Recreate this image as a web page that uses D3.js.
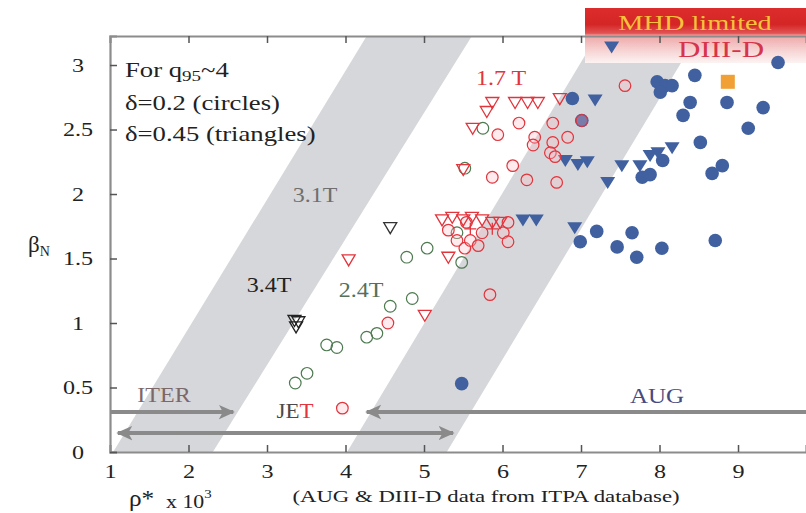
<!DOCTYPE html>
<html>
<head>
<meta charset="utf-8">
<script src="https://cdn.jsdelivr.net/npm/d3@7"></script>
<style>
  html, body { margin: 0; padding: 0; background: #fff; }
  svg { display: block; font-family: "Liberation Serif", "DejaVu Serif", serif; }
</style>
</head>
<body>
<svg id="chart" width="806" height="513"></svg>
<script>
// ---- data: [rho* x 10^3, beta_N] ----
const rhoTicks = [1, 2, 3, 4, 5, 6, 7, 8, 9];
const betaTicks = [0, 0.5, 1, 1.5, 2, 2.5, 3];

// JET 3.4 T, delta = 0.45
const jet34Tri = [[3.35, 1.02], [3.40, 1.01], [3.37, 0.97]];
// JET 2.4 T
const jet24Circ = [[3.36, 0.535], [3.51, 0.61], [3.76, 0.83], [3.89, 0.81], [4.27, 0.89], [4.40, 0.92],
  [4.57, 1.13], [4.85, 1.19], [4.78, 1.51], [5.04, 1.58], [5.48, 1.47], [5.42, 1.70], [5.52, 2.20], [5.75, 2.51]];
const jet24Tri = [[4.57, 1.74]];
// JET 1.7 T
const jet17Circ = [[3.96, 0.34], [4.54, 1.00], [5.84, 1.22], [5.31, 1.72], [5.42, 1.64], [5.52, 1.58],
  [5.59, 1.64], [5.69, 1.60], [5.74, 1.70], [6.01, 1.70], [6.07, 1.63], [6.07, 1.78], [5.54, 1.78],
  [5.87, 2.13], [6.13, 2.22], [6.31, 2.11], [6.69, 2.09], [5.94, 2.46], [6.21, 2.55], [6.64, 2.55],
  [6.83, 2.44], [6.41, 2.44], [6.39, 2.38], [6.64, 2.40], [6.61, 2.32], [6.67, 2.29], [7.01, 2.57], [7.56, 2.84]];
const jet17Tri = [[4.04, 1.49], [5.01, 1.06], [5.31, 1.51], [5.23, 1.80], [5.36, 1.82], [5.50, 1.80],
  [5.61, 1.82], [5.74, 1.80], [5.87, 1.78], [5.97, 1.78], [5.50, 2.19], [5.62, 2.51], [5.80, 2.64],
  [5.87, 2.71], [6.16, 2.71], [6.32, 2.71], [6.45, 2.71], [6.73, 2.74]];
const jet17Plus = [[5.59, 1.73], [5.87, 1.73]];
// AUG (ITPA database)
const augCirc = [[5.48, 0.53], [6.99, 1.63], [7.20, 1.71], [7.46, 1.59], [7.65, 1.70], [7.71, 1.51],
  [8.03, 1.58], [8.71, 1.64], [6.89, 2.74], [7.01, 2.57], [7.78, 2.13], [7.88, 2.15], [8.04, 2.26],
  [7.97, 2.87], [8.07, 2.84], [8.16, 2.84], [8.01, 2.79], [8.45, 2.92], [9.51, 3.02], [8.39, 2.71],
  [8.30, 2.61], [8.86, 2.71], [9.32, 2.67], [9.13, 2.51], [8.52, 2.40], [8.80, 2.22], [8.67, 2.16]];
const augTri = [[7.39, 3.14], [7.18, 2.73], [6.80, 2.26], [6.96, 2.23], [7.08, 2.25], [7.34, 2.09],
  [7.52, 2.22], [7.75, 2.22], [7.88, 2.30], [7.98, 2.32], [8.16, 2.36], [6.26, 1.80], [6.43, 1.80], [6.92, 1.74]];
// DIII-D
const diiidSq = [[8.87, 2.87]];

// shaded field bands (corners in data units)
const band31 = [[1.04, 0], [2.31, 0], [5.61, 3.225], [4.27, 3.225]];
const band17 = [[4.02, 0], [5.29, 0], [8.48, 3.225], [7.20, 3.225]];

// ---- drawing ----
const svg = d3.select("#chart");
const x = d3.scaleLinear().domain([1, 9.866]).range([110, 806]);
const y = d3.scaleLinear().domain([0, 3.225]).range([452, 36]);
const SX = 1.27; // horizontal stretch of the serif lettering

const defs = svg.append("defs");
defs.append("clipPath").attr("id", "plotClip").append("rect")
  .attr("x", x(1)).attr("y", y(3.225)).attr("width", x(9.866) - x(1)).attr("height", y(0) - y(3.225));

const bannerGrad = defs.append("linearGradient").attr("id", "bannerGrad")
  .attr("x1", 0).attr("y1", 0).attr("x2", 0).attr("y2", 1);
[[0, "#de2c2c"], [0.3, "#d42626"], [0.46, "#e25454"], [0.5, "#eea6a6"], [0.75, "#f6d0d0"], [1, "#fdf3f3"]]
  .forEach(([o, c]) => bannerGrad.append("stop").attr("offset", o).attr("stop-color", c));

defs.append("marker").attr("id", "arrow").attr("viewBox", "0 -5 10 10")
  .attr("refX", 9).attr("refY", 0)
  .attr("markerWidth", 4).attr("markerHeight", 4).attr("markerUnits", "strokeWidth")
  .attr("orient", "auto-start-reverse")
  .append("path").attr("d", "M0,-4.5L10,0L0,4.5L2.5,0Z").attr("fill", "#8a8a8a");

function label(g, px, py, str, opts = {}) {
  const t = g.append("text")
    .attr("transform", `translate(${px},${py}) scale(${opts.sx || SX},1)`)
    .attr("text-anchor", opts.anchor || "start")
    .attr("font-size", opts.size || 20)
    .attr("fill", opts.color || "#222");
  if (typeof str === "string") t.text(str);
  else str.forEach(s => {
    const ts = t.append("tspan").text(s.t);
    if (s.color) ts.attr("fill", s.color);
    if (s.size) ts.attr("font-size", s.size);
    if (s.dy) ts.attr("dy", s.dy);
  });
  return t;
}

// field bands
const plot = svg.append("g").attr("clip-path", "url(#plotClip)");
const poly = d3.line().x(d => x(d[0])).y(d => y(d[1]));
[band31, band17].forEach(b => plot.append("path").attr("d", poly(b) + "Z").attr("fill", "#d6d7da"));

// MHD limit banner
svg.append("rect").attr("x", 585).attr("y", 8).attr("width", 221).attr("height", 55)
  .attr("fill", "url(#bannerGrad)");

// axes with inward ticks
const axisColor = "#8c8c8c";
const gx = svg.append("g").attr("transform", `translate(0,${y(0)})`)
  .call(d3.axisBottom(x).tickValues(rhoTicks).tickSize(-7).tickPadding(13).tickFormat(d3.format("d")));
const gxt = svg.append("g").attr("transform", `translate(0,${y(3.225)})`)
  .call(d3.axisTop(x).tickValues(rhoTicks).tickSize(-7).tickFormat(""));
const gy = svg.append("g").attr("transform", `translate(${x(1)},0)`)
  .call(d3.axisLeft(y).tickValues(betaTicks).tickSize(-7).tickFormat(d => d));
[gx, gxt, gy].forEach(g => {
  g.select(".domain").attr("stroke", axisColor).attr("stroke-width", 2.2);
  g.selectAll(".tick line").attr("stroke", "#555").attr("stroke-width", 1.5);
  g.selectAll("text").attr("fill", "#222").attr("font-size", 19)
    .attr("font-family", "Liberation Serif, serif");
});
gx.selectAll(".tick text").attr("transform", `scale(${SX},1)`);
gy.selectAll(".tick text").attr("text-anchor", "middle").attr("x", -32 / SX).attr("transform", `scale(${SX},1)`);
gxt.selectAll(".tick").filter(d => d === 1).remove();
gx.selectAll(".tick line").filter(d => d === 1).remove();

// range arrows
const arrows = svg.append("g").attr("stroke", "#8a8a8a").attr("stroke-width", 4).attr("fill", "none");
arrows.append("line").attr("x1", x(1)).attr("x2", x(2.57)).attr("y1", y(0.31)).attr("y2", y(0.31))
  .attr("marker-end", "url(#arrow)");
arrows.append("line").attr("x1", x(1.10)).attr("x2", x(5.37)).attr("y1", y(0.147)).attr("y2", y(0.147))
  .attr("marker-start", "url(#arrow)").attr("marker-end", "url(#arrow)");
arrows.append("line").attr("x1", x(4.27)).attr("x2", x(9.866)).attr("y1", y(0.31)).attr("y2", y(0.31))
  .attr("marker-start", "url(#arrow)");

// markers
const triDown = (w, h) => `M${-w},${-h * 0.45}L${w},${-h * 0.45}L0,${h * 0.55}Z`;
const marks = svg.append("g");
const pos = d => `translate(${x(d[0])},${y(d[1])})`;

marks.selectAll(".augc").data(augCirc).join("circle").attr("class", "augc")
  .attr("cx", d => x(d[0])).attr("cy", d => y(d[1])).attr("r", 6.8).attr("fill", "#40609f");
marks.selectAll(".augt").data(augTri).join("path").attr("class", "augt")
  .attr("transform", pos).attr("d", triDown(7.5, 12)).attr("fill", "#40609f");
marks.selectAll(".dsq").data(diiidSq).join("rect").attr("class", "dsq")
  .attr("x", d => x(d[0]) - 7).attr("y", d => y(d[1]) - 7).attr("width", 14).attr("height", 14)
  .attr("fill", "#f0a035");
marks.selectAll(".j24c").data(jet24Circ).join("circle").attr("class", "j24c")
  .attr("cx", d => x(d[0])).attr("cy", d => y(d[1])).attr("r", 5.8)
  .attr("fill", "none").attr("stroke", "#4d7a50").attr("stroke-width", 1.2);
marks.selectAll(".j24t").data(jet24Tri).join("path").attr("class", "j24t")
  .attr("transform", pos).attr("d", triDown(6.5, 11)).attr("fill", "none")
  .attr("stroke", "#333").attr("stroke-width", 1.3);
marks.selectAll(".j34t").data(jet34Tri).join("path").attr("class", "j34t")
  .attr("transform", pos).attr("d", triDown(6.5, 11)).attr("fill", "none")
  .attr("stroke", "#222").attr("stroke-width", 1.3);
marks.selectAll(".j17c").data(jet17Circ).join("circle").attr("class", "j17c")
  .attr("cx", d => x(d[0])).attr("cy", d => y(d[1])).attr("r", 5.8)
  .attr("fill", "rgba(255,190,200,0.3)").attr("stroke", "#e2343c").attr("stroke-width", 1.2);
marks.selectAll(".j17t").data(jet17Tri).join("path").attr("class", "j17t")
  .attr("transform", pos).attr("d", triDown(6.5, 11)).attr("fill", "none")
  .attr("stroke", "#e2343c").attr("stroke-width", 1.3);
marks.selectAll(".j17p").data(jet17Plus).join("path").attr("class", "j17p")
  .attr("transform", pos).attr("d", "M-6,0H6M0,-6V6").attr("stroke", "#e2343c").attr("stroke-width", 1.3);

// text annotations
const txt = svg.append("g");
label(txt, 125, 77, [{ t: "For q" }, { t: "95", size: 15, dy: 4 }, { t: "~4", dy: -4 }], { size: 21 });
label(txt, 125, 110, "δ=0.2 (circles)", { size: 21 });
label(txt, 125, 141, "δ=0.45 (triangles)", { size: 21 });
label(txt, 695, 30, "MHD limited", { size: 21, color: "#f6c23c", anchor: "middle", sx: 1.35 });
label(txt, 721, 57, "DIII-D", { size: 23, color: "#d6344a", anchor: "middle", sx: 1.35 });
label(txt, 501, 85, "1.7 T", { size: 20, color: "#e2343c", anchor: "middle", sx: 1.2 });
label(txt, 315, 202, "3.1T", { size: 20, color: "#6f6f6f", anchor: "middle", sx: 1.2 });
label(txt, 269, 292, "3.4T", { size: 20, color: "#222", anchor: "middle", sx: 1.2 });
label(txt, 361, 297, "2.4T", { size: 20, color: "#56705a", anchor: "middle", sx: 1.2 });
label(txt, 164, 402, "ITER", { size: 20, color: "#7c6868", anchor: "middle", sx: 1.2 });
label(txt, 295, 418, [{ t: "JE", color: "#4a4a4a" }, { t: "T", color: "#e2343c" }],
  { size: 20, anchor: "middle", sx: 1.15 });
label(txt, 657, 403, "AUG", { size: 20, color: "#4a4a82", anchor: "middle", sx: 1.25 });

// axis titles
label(txt, 28, 252, [{ t: "β" }, { t: "N", size: 14, dy: 4 }], { size: 23, sx: 1 });
label(txt, 129, 506, [{ t: "ρ*" }], { size: 23, sx: 1.1 });
label(txt, 166, 508, [{ t: "x 10" }, { t: "3", size: 13, dy: -10 }], { size: 19, sx: 1.15 });
label(txt, 486, 502, "(AUG & DIII-D data from ITPA database)", { size: 17, anchor: "middle", sx: 1.34 });
</script>
</body>
</html>
